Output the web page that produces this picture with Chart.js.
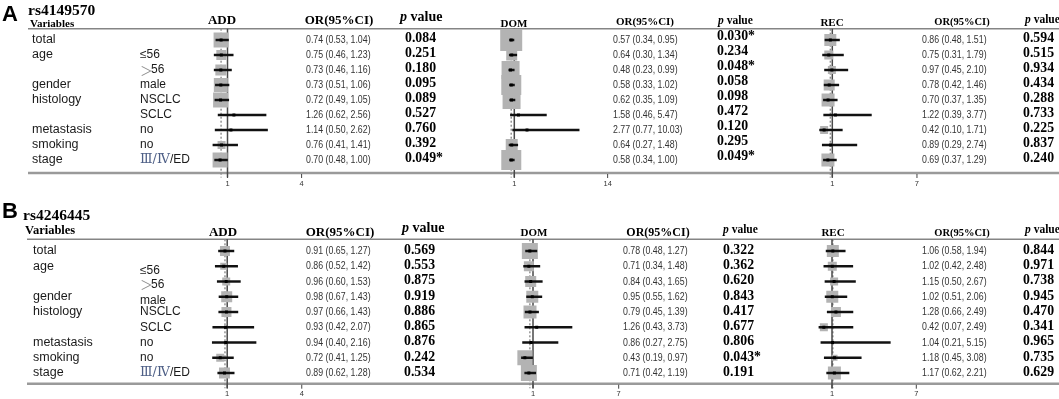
<!DOCTYPE html>
<html><head><meta charset="utf-8">
<script src="https://cdn.jsdelivr.net/npm/chart.js@4.4.1/dist/chart.umd.min.js"></script>
<style>
html,body{margin:0;padding:0;background:#fff;}
#wrap{position:relative;width:1059px;height:399px;overflow:hidden;background:#fff;}
canvas{position:absolute;left:0;}
</style></head><body>
<div id="wrap">
<canvas id="cA" width="1059" height="195" style="top:0px"></canvas>
<canvas id="cB" width="1059" height="204" style="top:195px"></canvas>
</div>
<script>
// ---------------- DATA ----------------
const variables = ['total','age','','gender','histology','','metastasis','smoking','stage'];
const subgroups = ['','≤56','＞56','male','NSCLC','SCLC','no','no','Ⅲ/Ⅳ/ED'];
const modelNames = ['ADD','DOM','REC'];

// Panel A : rs4149570
const snpA = 'rs4149570';
const A_ADD_or = [0.74,0.75,0.73,0.73,0.72,1.26,1.14,0.76,0.70];
const A_ADD_lo = [0.53,0.46,0.46,0.51,0.49,0.62,0.50,0.41,0.48];
const A_ADD_hi = [1.04,1.23,1.16,1.06,1.05,2.56,2.62,1.41,1.00];
const A_ADD_p  = ['0.084','0.251','0.180','0.095','0.089','0.527','0.760','0.392','0.049*'];
const A_ADD_w  = [15,10,11,14,15,0,0,8,15];
const A_ADD_ticks = [1,4];

const A_DOM_or = [0.57,0.64,0.48,0.58,0.62,1.58,2.77,0.64,0.58];
const A_DOM_lo = [0.34,0.30,0.23,0.33,0.35,0.46,0.77,0.27,0.34];
const A_DOM_hi = [0.95,1.34,0.99,1.02,1.09,5.47,10.03,1.48,1.00];
const A_DOM_p  = ['0.030*','0.234','0.048*','0.058','0.098','0.472','0.120','0.295','0.049*'];
const A_DOM_w  = [22,11,18,20,18,0,0,12,20];
const A_DOM_ticks = [1,14];

const A_REC_or = [0.86,0.75,0.97,0.78,0.70,1.22,0.42,0.89,0.69];
const A_REC_lo = [0.48,0.31,0.45,0.42,0.37,0.39,0.10,0.29,0.37];
const A_REC_hi = [1.51,1.79,2.10,1.46,1.35,3.77,1.71,2.74,1.29];
const A_REC_p  = ['0.594','0.515','0.934','0.434','0.288','0.733','0.225','0.837','0.240'];
const A_REC_w  = [12,9,8,11,13,0,8,3,13];
const A_REC_ticks = [1,7];

// Panel B : rs4246445
const snpB = 'rs4246445';
const B_ADD_or = [0.91,0.86,0.96,0.98,0.97,0.93,0.94,0.72,0.89];
const B_ADD_lo = [0.65,0.52,0.60,0.67,0.66,0.42,0.40,0.41,0.62];
const B_ADD_hi = [1.27,1.42,1.53,1.43,1.43,2.07,2.16,1.25,1.28];
const B_ADD_p  = ['0.569','0.553','0.875','0.919','0.886','0.865','0.876','0.242','0.534'];
const B_ADD_w  = [10,7,8,11,10,0,0,8,11];
const B_ADD_ticks = [1,4];

const B_DOM_or = [0.78,0.71,0.84,0.95,0.79,1.26,0.86,0.43,0.71];
const B_DOM_lo = [0.48,0.34,0.43,0.55,0.45,0.43,0.27,0.19,0.42];
const B_DOM_hi = [1.27,1.48,1.65,1.62,1.39,3.73,2.75,0.97,1.19];
const B_DOM_p  = ['0.322','0.362','0.620','0.843','0.417','0.677','0.806','0.043*','0.191'];
const B_DOM_w  = [16,10,11,12,13,0,0,15,16];
const B_DOM_ticks = [1,7];

const B_REC_or = [1.06,1.02,1.15,1.02,1.28,0.42,1.04,1.18,1.17];
const B_REC_lo = [0.58,0.42,0.50,0.51,0.66,0.07,0.21,0.45,0.62];
const B_REC_hi = [1.94,2.48,2.67,2.06,2.49,2.49,5.15,3.08,2.21];
const B_REC_p  = ['0.844','0.971','0.738','0.945','0.470','0.341','0.965','0.735','0.629'];
const B_REC_w  = [12,9,8,12,10,8,0,6,13];
const B_REC_ticks = [1,7];

// ---------------- LAYOUT ----------------
const W = 1059;
const SERIF = '"Liberation Serif","Times New Roman",serif';
const SANS = '"Liberation Sans",Arial,sans-serif';

const panels = [
  {
    canvas:'cA', letter:'A', snp:snpA, height:195, row0:40, rowStep:15,
    headerY:28.7, bottomY:173, lineX0:28, tickLabelY:184,
    letterPos:[2,21], snpPos:[28,15,'bold 15.5px'], varPos:[30,27,'bold 11px'],
    varX:32, subX:140, subDy:[0,0,0,0,0,0,0,0,0],
    heads:[
      {name:[222,24,'bold 13px'], or:[339,24,'bold 13px'], p:[400,21,14]},
      {name:[514,26.5,'bold 11px'], or:[645,25,'bold 11px'], p:[718,24,11.5]},
      {name:[832,26,'bold 11px'], or:[962,25,'bold 10.5px'], p:[1025,23,11.5]}
    ],
    cols:[{orX:306,pX:405,pDy:-1.5},{orX:613,pX:717,pDy:-4},{orX:922,pX:1023,pDy:-1.5}],
    models:[
      {or:A_ADD_or,lo:A_ADD_lo,hi:A_ADD_hi,p:A_ADD_p,w:A_ADD_w,ticks:A_ADD_ticks,px1:227.5,ppu:24.7},
      {or:A_DOM_or,lo:A_DOM_lo,hi:A_DOM_hi,p:A_DOM_p,w:A_DOM_w,ticks:A_DOM_ticks,px1:514.3,ppu:7.18},
      {or:A_REC_or,lo:A_REC_lo,hi:A_REC_hi,p:A_REC_p,w:A_REC_w,ticks:A_REC_ticks,px1:832.3,ppu:14.11}
    ]
  },
  {
    canvas:'cB', letter:'B', snp:snpB, height:204, row0:56, rowStep:15.25,
    headerY:44.3, bottomY:188.7, lineX0:27, tickLabelY:199,
    letterPos:[2,23], snpPos:[23,25,'bold 15.5px'], varPos:[25,39,'bold 12.5px'],
    varX:33, subX:140, subDy:[0,4,3,4,0,0,0,0,0],
    heads:[
      {name:[223,41,'bold 13px'], or:[340,41,'bold 13px'], p:[402,37,14]},
      {name:[534,41,'bold 11px'], or:[658,41,'bold 12px'], p:[723,37.5,11.5]},
      {name:[833,41,'bold 11px'], or:[962,41,'bold 10.5px'], p:[1025,38,11.5]}
    ],
    cols:[{orX:306,pX:404,pDy:-1},{orX:623,pX:723,pDy:-1},{orX:922,pX:1023,pDy:-1}],
    models:[
      {or:B_ADD_or,lo:B_ADD_lo,hi:B_ADD_hi,p:B_ADD_p,w:B_ADD_w,ticks:B_ADD_ticks,px1:227.2,ppu:24.85},
      {or:B_DOM_or,lo:B_DOM_lo,hi:B_DOM_hi,p:B_DOM_p,w:B_DOM_w,ticks:B_DOM_ticks,px1:533,ppu:14.28},
      {or:B_REC_or,lo:B_REC_lo,hi:B_REC_hi,p:B_REC_p,w:B_REC_w,ticks:B_REC_ticks,px1:832,ppu:14.05}
    ]
  }
];

// ---------------- HELPERS ----------------
function txt(ctx, s, x, y, font, color, align, base, sx) {
  ctx.save();
  ctx.font = font; ctx.fillStyle = color;
  ctx.textAlign = align || 'left'; ctx.textBaseline = base || 'middle';
  ctx.translate(x, y); ctx.scale(sx || 1, 1);
  ctx.fillText(s, 0, 0);
  ctx.restore();
}
function drawSub(ctx, s, x, y) {
  const chars = Array.from(s);
  let cx = x;
  const isR = c => c === 'Ⅲ' || c === 'Ⅳ';
  chars.forEach((c, i) => {
    let font, color;
    if (c === '＞') { font = '13px "Noto Sans CJK SC",sans-serif'; color = '#8f8f8f'; }
    else if (isR(c) || (c === '/' && isR(chars[i-1]) && isR(chars[i+1]))) {
      font = '13px "DejaVu Serif",' + SERIF; color = '#4e5f86';
    } else { font = '12px ' + SANS; color = '#1a1a1a'; }
    ctx.save();
    ctx.font = font; ctx.fillStyle = color; ctx.textAlign = 'left'; ctx.textBaseline = 'middle';
    const wd = ctx.measureText(c).width;
    ctx.fillText(c, cx, y);
    ctx.restore();
    cx += (c === '＞') ? wd * 0.85 : wd;
  });
}
function pHeader(ctx, x, y, size) {
  ctx.save();
  ctx.textBaseline = 'alphabetic'; ctx.textAlign = 'left'; ctx.fillStyle = '#000';
  ctx.font = 'italic bold ' + size + 'px ' + SERIF;
  ctx.fillText('p', x, y);
  const w = ctx.measureText('p').width;
  ctx.font = 'bold ' + size + 'px ' + SERIF;
  ctx.fillText(' value', x + w, y);
  ctx.restore();
}
const f2 = v => v.toFixed(2);

// ---------------- CHARTS ----------------
panels.forEach(P => {
  const yMin = -P.row0 / P.rowStep;
  const yMax = (P.height - P.row0) / P.rowStep;
  const rowOf = px => (px - P.row0) / P.rowStep;
  const lineTop = rowOf(P.headerY);
  const lineBot = rowOf(P.bottomY + 4.5);

  const scales = {
    x: { type:'linear', display:false },
    y: { type:'linear', display:false, reverse:true, offset:false, min:yMin, max:yMax }
  };
  const datasets = [];
  P.models.forEach((m, k) => {
    const xid = 'x' + k;
    scales[xid] = { type:'linear', display:false, offset:false, position:'bottom',
      min: 1 - m.px1 / m.ppu, max: 1 + (W - m.px1) / m.ppu };
    // dashed line at the overall estimate
    datasets.push({ type:'line', xAxisID:xid, yAxisID:'y', order:7,
      data:[{x:m.or[0], y:lineTop}, {x:m.or[0], y:lineBot}],
      borderColor:'#8c8c8c', borderWidth:1.4, borderDash:[2,2], pointRadius:0 });
    // reference line at OR = 1
    datasets.push({ type:'line', xAxisID:xid, yAxisID:'y', order:6,
      data:[{x:1, y:lineTop}, {x:1, y:lineBot}],
      borderColor:'#4a4a4a', borderWidth:1.5, pointRadius:0 });
    // weight squares
    datasets.push({ type:'scatter', xAxisID:xid, yAxisID:'y', order:5,
      data: m.or.map((v, i) => ({x:v, y:i})),
      pointStyle:'rect', pointRadius: m.w.map(s => s / Math.SQRT2),
      backgroundColor:'#b3b3b3', borderWidth:0, pointBorderWidth:0 });
    // confidence intervals
    datasets.push({ type:'bar', indexAxis:'y', grouped:false, xAxisID:xid, yAxisID:'y', order:4,
      data: m.or.map((v, i) => ({x:[m.lo[i], m.hi[i]], y:i})),
      backgroundColor:'#111', borderWidth:0, barThickness:1.8 });
    // point estimates
    datasets.push({ type:'scatter', xAxisID:xid, yAxisID:'y', order:3,
      data: m.or.map((v, i) => ({x:v, y:i})),
      pointStyle:'rect', pointRadius:2.1, backgroundColor:'#000', borderWidth:0 });
  });

  const tablePlugin = {
    id:'table',
    beforeDatasetsDraw(chart) {
      const ctx = chart.ctx;
      ctx.save();
      ctx.strokeStyle = '#858585'; ctx.lineWidth = 1.5;
      ctx.beginPath(); ctx.moveTo(P.lineX0, P.headerY); ctx.lineTo(W, P.headerY); ctx.stroke();
      ctx.strokeStyle = '#9a9a9a'; ctx.lineWidth = 2.5;
      ctx.beginPath(); ctx.moveTo(P.lineX0, P.bottomY); ctx.lineTo(W, P.bottomY); ctx.stroke();
      ctx.restore();
    },
    afterDraw(chart) {
      const ctx = chart.ctx;
      const ys = chart.scales.y;
      // ticks
      P.models.forEach((m, k) => {
        const xs = chart.scales['x' + k];
        m.ticks.forEach(t => {
          const x = xs.getPixelForValue(t);
          ctx.save(); ctx.strokeStyle = '#444'; ctx.lineWidth = 1;
          ctx.beginPath(); ctx.moveTo(x, P.bottomY + 1); ctx.lineTo(x, P.bottomY + 5); ctx.stroke();
          ctx.restore();
          txt(ctx, String(t), x, P.tickLabelY, '7.5px ' + SANS, '#333', 'center', 'middle');
        });
      });
      // titles
      txt(ctx, P.letter, P.letterPos[0], P.letterPos[1], 'bold 22px ' + SANS, '#000', 'left', 'alphabetic');
      txt(ctx, P.snp, P.snpPos[0], P.snpPos[1], P.snpPos[2] + ' ' + SERIF, '#000', 'left', 'alphabetic');
      txt(ctx, 'Variables', P.varPos[0], P.varPos[1], P.varPos[2] + ' ' + SERIF, '#000', 'left', 'alphabetic');
      P.heads.forEach((h, k) => {
        txt(ctx, modelNames[k], h.name[0], h.name[1], h.name[2] + ' ' + SERIF, '#000', 'center', 'alphabetic');
        txt(ctx, 'OR(95%CI)', h.or[0], h.or[1], h.or[2] + ' ' + SERIF, '#000', 'center', 'alphabetic');
        pHeader(ctx, h.p[0], h.p[1], h.p[2]);
      });
      // rows
      variables.forEach((v, i) => {
        const y = ys.getPixelForValue(i);
        if (v) txt(ctx, v, P.varX, y, '12.5px ' + SANS, '#1a1a1a', 'left', 'middle');
        if (subgroups[i]) drawSub(ctx, subgroups[i], P.subX, y + P.subDy[i]);
        P.models.forEach((m, k) => {
          const c = P.cols[k];
          const s = f2(m.or[i]) + ' (' + f2(m.lo[i]) + ', ' + f2(m.hi[i]) + ')';
          txt(ctx, s, c.orX, y, '11px ' + SANS, '#333', 'left', 'middle', 0.8);
          txt(ctx, m.p[i], c.pX, y + c.pDy, 'bold 15px ' + SERIF, '#000', 'left', 'middle', 0.92);
        });
      });
    }
  };

  new Chart(document.getElementById(P.canvas), {
    type:'scatter',
    data:{ datasets },
    options:{
      responsive:false, animation:false, devicePixelRatio:1,
      layout:{ padding:0, autoPadding:false },
      plugins:{ legend:{display:false}, tooltip:{enabled:false} },
      scales
    },
    plugins:[tablePlugin]
  });
});
</script>
</body></html>
